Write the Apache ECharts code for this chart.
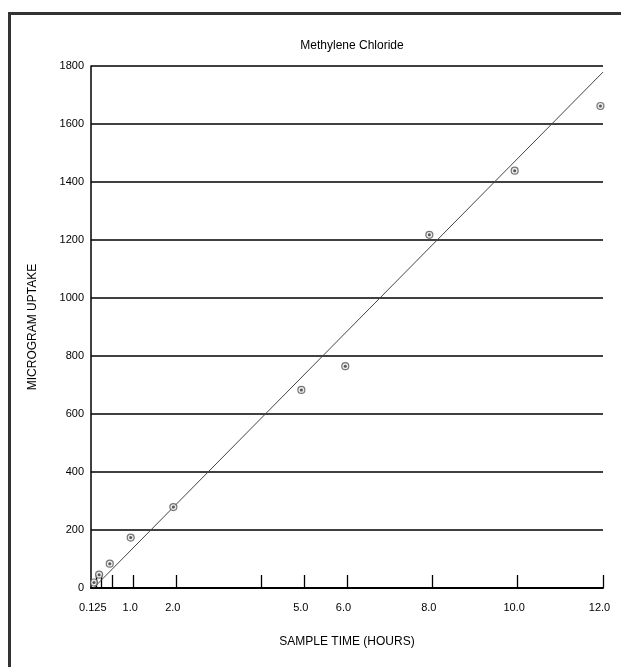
<!DOCTYPE html>
<html>
<head>
<meta charset="utf-8">
<script src="https://cdn.jsdelivr.net/npm/echarts@6/dist/echarts.min.js"></script>
<style>
html,body{margin:0;padding:0;background:#fff;}
#chart{width:621px;height:667px;}
</style>
</head>
<body>
<div id="chart"></div>
<script>
// Data
var chartTitle = 'Methylene Chloride';
var xAxisTitle = 'SAMPLE TIME (HOURS)';
var yAxisTitle = 'MICROGRAM UPTAKE';
var sampleTimes = [0.07, 0.19, 0.44, 0.93, 1.93, 4.93, 5.96, 7.93, 9.93, 11.94];
var uptakeValues = [19, 46, 84, 174, 279, 683, 765, 1218, 1439, 1662];
var fitLineTimes = [0.06, 12];
var fitLineValues = [0, 1779];
var xTickValues = [0.125, 0.25, 0.5, 1, 2, 4, 5, 6, 8, 10, 12];
var xLabelValues = [0.125, 1, 2, 5, 6, 8, 10, 12];
var yMin = 0, yMax = 1800, yStep = 200;

var pts = sampleTimes.map(function (t, i) { return [t, uptakeValues[i]]; });
var fit = fitLineTimes.map(function (t, i) { return [t, fitLineValues[i]]; });

var FONT = '"Liberation Sans", Arial, Helvetica, sans-serif';
var chart = echarts.init(document.getElementById('chart'), null, {renderer: 'canvas'});
chart.setOption({
  backgroundColor: '#fff',
  animation: false,
  title: {
    text: chartTitle,
    left: 347, top: 35, textAlign: 'center',
    textStyle: {fontFamily: FONT, fontSize: 12, fontWeight: 'normal', color: '#000'}
  },
  grid: {left: 91, right: 18, top: 66, bottom: 79, containLabel: false},
  xAxis: {
    type: 'value', min: 0, max: 12,
    name: xAxisTitle, nameLocation: 'middle', nameGap: 48,
    nameTextStyle: {fontFamily: FONT, fontSize: 12, color: '#000'},
    axisLine: {show: true, lineStyle: {color: '#000', width: 2}},
    axisTick: {show: true, inside: true, length: 13, customValues: xTickValues,
      lineStyle: {color: '#000', width: 1.3}},
    axisLabel: {
      customValues: xLabelValues, margin: 14,
      fontFamily: FONT, fontSize: 11, color: '#000',
      formatter: function (v) {
        var s = (v === 0.125) ? '0.125' : v.toFixed(1);
        return '{a|' + s + '}';
      },
      rich: {a: {fontFamily: FONT, fontSize: 11, color: '#000', padding: [0, 7, 0, 0]}}
    },
    splitLine: {show: false}
  },
  yAxis: {
    type: 'value', min: yMin, max: yMax, interval: yStep,
    name: yAxisTitle, nameLocation: 'middle', nameGap: 52, nameRotate: 90,
    nameTextStyle: {fontFamily: FONT, fontSize: 12, color: '#000'},
    axisLine: {show: true, lineStyle: {color: '#000', width: 1.5}},
    axisTick: {show: false},
    axisLabel: {margin: 7, fontFamily: FONT, fontSize: 11, color: '#000',
      formatter: function (v) { return String(v); }},
    splitLine: {show: true, lineStyle: {color: '#000', width: 1.5}}
  },
  series: [
    {
      type: 'line', data: fit, symbol: 'none', silent: true,
      lineStyle: {color: '#444', width: 1}, z: 3
    },
    {
      type: 'scatter', data: pts, symbol: 'circle', symbolSize: 7,
      itemStyle: {color: '#e6e6e6', borderColor: '#555', borderWidth: 1.2}, z: 4
    },
    {
      type: 'scatter', data: pts, symbol: 'circle', symbolSize: 3,
      itemStyle: {color: '#333'}, z: 5
    }
  ],
  graphic: [
    {type: 'rect', shape: {x: 8, y: 12, width: 3, height: 655}, style: {fill: '#333'}, silent: true},
    {type: 'rect', shape: {x: 8, y: 12, width: 613, height: 3}, style: {fill: '#333'}, silent: true}
  ]
});
</script>
</body>
</html>
